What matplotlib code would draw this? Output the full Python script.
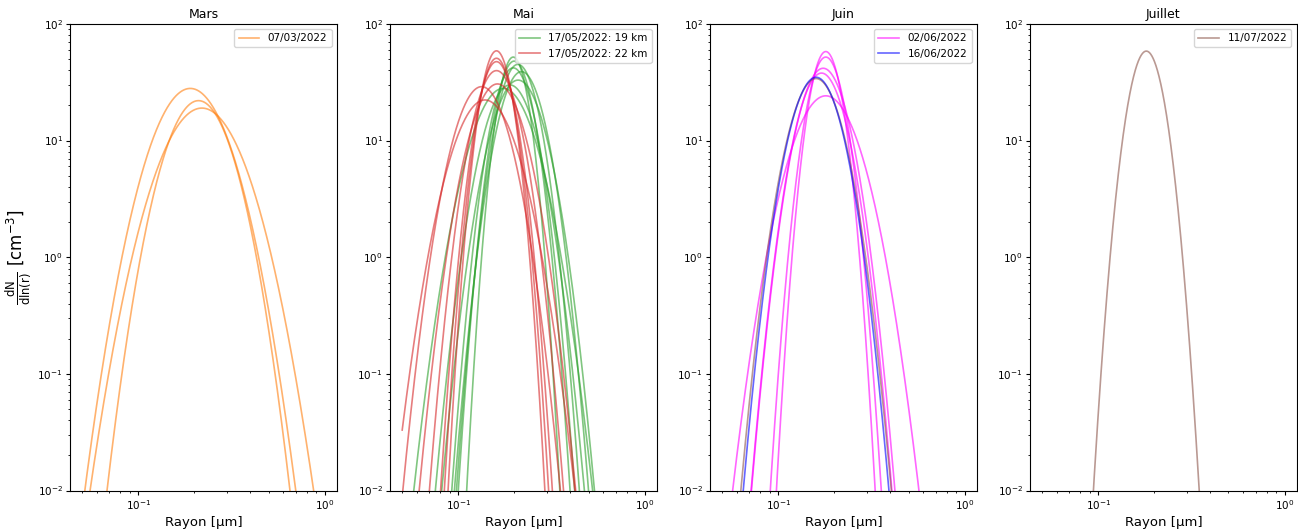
import numpy as np
import matplotlib
matplotlib.use("Agg")
import matplotlib.pyplot as plt

# Radius grid [µm]
r_min, r_max, n_r = 0.05, 1.0, 800

# Log-normal mode parameters: N [cm^-3], median radius [µm], geometric std sigma
# --- Mars
mars_N = [22.96, 15.89, 16.93]
mars_r = [0.1901, 0.2104, 0.2193]
mars_s = [1.387, 1.334, 1.427]

# --- Mai, 19 km
mai19_N = [18.14, 19.58, 19.93, 19.40, 17.31, 19.47, 20.90, 20.19]
mai19_r = [0.1972, 0.1972, 0.2183, 0.2094, 0.1892, 0.1742, 0.2089, 0.1995]
mai19_s = [1.1493, 1.2044, 1.2261, 1.2643, 1.2588, 1.3197, 1.2035, 1.1827]

# --- Mai, 22 km
mai22_N = [21.18, 19.87, 19.99, 20.31, 18.51, 17.73, 15.83]
mai22_r = [0.1603, 0.1603, 0.1603, 0.1603, 0.1622, 0.1334, 0.1390]
mai22_s = [1.1545, 1.1689, 1.1828, 1.2258, 1.2730, 1.2762, 1.3274]

# --- Juin, 02/06
jun02_N = [21.31, 21.62, 22.69, 20.37, 17.69]
jun02_r = [0.1799, 0.1799, 0.1742, 0.1706, 0.1799]
jun02_s = [1.1579, 1.1804, 1.2425, 1.2391, 1.3386]

# --- Juin, 16/06
jun16_N = [19.50]
jun16_r = [0.1596]
jun16_s = [1.2497]

# --- Juin, extra (unlabelled) curve
jun_x_N = [19.66]
jun_x_r = [0.1596]
jun_x_s = [1.2594]

# --- Juillet
jul_N = [23.02]
jul_r = [0.1811]
jul_s = [1.1700]

titles = ["Mars", "Mai", "Juin", "Juillet"]


def lognormal(r, N, rm, sig):
    ls = np.log(sig)
    return N / (np.sqrt(2 * np.pi) * ls) * np.exp(-(np.log(r) - np.log(rm)) ** 2 / (2 * ls ** 2))


r = np.logspace(np.log10(r_min), np.log10(r_max), n_r)

plt.rcParams["xtick.major.size"] = 2.6
plt.rcParams["ytick.major.size"] = 2.6
plt.rcParams["xtick.minor.size"] = 1.5
plt.rcParams["ytick.minor.size"] = 1.5
plt.rcParams["axes.linewidth"] = 0.8

fig, axes = plt.subplots(1, 4, figsize=(12.98, 5.32), dpi=100)
fig.subplots_adjust(left=0.054, right=0.999, bottom=0.078, top=0.955, wspace=0.2)


def draw(ax, Ns, rms, sigs, color, label, alpha=0.6):
    for i, (N, rm, sg) in enumerate(zip(Ns, rms, sigs)):
        ax.plot(r, lognormal(r, N, rm, sg), color=color, alpha=alpha, lw=1.2,
                label=label if (i == 0 and label) else None)


draw(axes[0], mars_N, mars_r, mars_s, "tab:orange", "07/03/2022")
draw(axes[1], mai19_N, mai19_r, mai19_s, "tab:green", "17/05/2022: 19 km")
draw(axes[1], mai22_N, mai22_r, mai22_s, "tab:red", "17/05/2022: 22 km")
draw(axes[2], jun02_N, jun02_r, jun02_s, "magenta", "02/06/2022")
draw(axes[2], jun_x_N, jun_x_r, jun_x_s, "tab:brown", None)
draw(axes[2], jun16_N, jun16_r, jun16_s, "blue", "16/06/2022")
draw(axes[3], jul_N, jul_r, jul_s, "tab:brown", "11/07/2022")

for ax, t in zip(axes, titles):
    ax.set_xscale("log")
    ax.set_yscale("log")
    ax.set_ylim(1e-2, 1e2)
    ax.set_title(t, fontsize=9, pad=4.5)
    ax.set_xlabel("Rayon [µm]", fontsize=9.5, labelpad=3)
    ax.tick_params(labelsize=7.5, pad=2.6)
    ax.legend(loc="upper right", fontsize=7.5)

axes[0].set_ylabel(r"$\frac{\mathrm{dN}}{\mathrm{dln(r)}}$ [cm$^{-3}$]", fontsize=12, labelpad=3)

fig.savefig("out.png", dpi=100)
